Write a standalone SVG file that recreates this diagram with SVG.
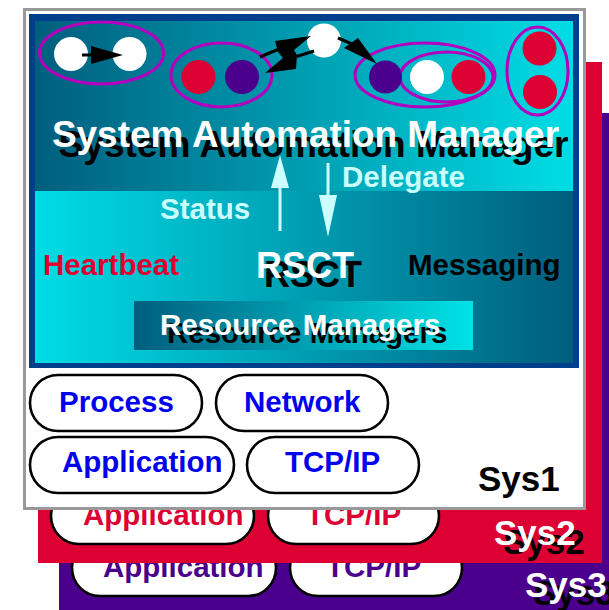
<svg xmlns="http://www.w3.org/2000/svg" width="609" height="610" viewBox="0 0 609 610">
<style>
text{font-family:"Liberation Sans",Arial,Helvetica,sans-serif;font-weight:bold}
.pill{fill:#fff;stroke:#000;stroke-width:2.6}
.ell{fill:none;stroke:#b400be;stroke-width:3}
.t29{font-size:29.5px}
.lc{fill:#ccffff}
.wh{fill:#fff}
.bk{fill:#000}
.blue{fill:#0000ee}
.red{fill:#dd0033}
.pur{fill:#4a008c}
</style>
<defs>
<linearGradient id="gTop" x1="0" y1="0" x2="1" y2="0"><stop offset="0" stop-color="#005e7e"/><stop offset="1" stop-color="#00dde5"/></linearGradient>
<linearGradient id="gBot" x1="0" y1="0" x2="1" y2="0"><stop offset="0" stop-color="#00dde6"/><stop offset="1" stop-color="#005e7e"/></linearGradient>
<linearGradient id="gRM" x1="0" y1="0" x2="1" y2="0"><stop offset="0" stop-color="#005e7e"/><stop offset="1" stop-color="#00e2e6"/></linearGradient>
</defs>

<g id="sys3">
<rect x="59" y="113" width="560" height="510" fill="#4a008c"/>
<rect class="pill" x="72" y="540" width="204" height="56" rx="28"/>
<rect class="pill" x="290" y="540" width="172" height="56" rx="28"/>
<text class="t29 pur" x="103" y="577">Application</text>
<text class="t29 pur" x="326" y="577">TCP/IP</text>
<text class="bk" x="533" y="605" font-size="35">Sys3</text>
<text class="wh" x="525" y="597" font-size="35">Sys3</text>
</g>

<g id="sys2">
<rect x="38" y="62" width="564" height="501" fill="#dd0033"/>
<rect class="pill" x="51" y="488" width="203" height="56" rx="28"/>
<rect class="pill" x="268" y="488" width="171" height="56" rx="28"/>
<text class="t29 red" x="83" y="525">Application</text>
<text class="t29 red" x="306" y="525">TCP/IP</text>
<text class="bk" x="503" y="554" font-size="35">Sys2</text>
<text class="wh" x="494" y="545" font-size="35">Sys2</text>
</g>

<g id="sys1">
<rect x="24.5" y="9.5" width="560" height="499" fill="#fff" stroke="#999" stroke-width="3"/>
<rect x="29" y="14" width="550" height="354" fill="#003f8c"/>
<g id="sam">
<rect x="35" y="21" width="538" height="170" fill="url(#gTop)"/>
</g>
<g id="rsct">
<rect x="35" y="191" width="538" height="172" fill="url(#gBot)"/>
<text class="t29 red" x="43" y="275">Heartbeat</text>
<text class="t29 bk" x="408" y="275">Messaging</text>
<text class="bk" x="264" y="287" font-size="36">RSCT</text>
<text class="wh" x="256" y="278" font-size="36">RSCT</text>
</g>
<g id="resource-managers">
<rect x="134" y="301" width="339" height="49" fill="url(#gRM)"/>
<text class="bk" x="167" y="343" font-size="29.5">Resource Managers</text>
<text class="wh" x="160" y="335" font-size="29.5">Resource Managers</text>
</g>
<g id="sam-title">
<text class="bk" x="58.5" y="157" font-size="37" textLength="510" lengthAdjust="spacingAndGlyphs">System Automation Manager</text>
<text class="wh" x="52" y="147" font-size="37" textLength="507" lengthAdjust="spacingAndGlyphs">System Automation Manager</text>
</g>
<g id="groups">
<ellipse class="ell" cx="101.5" cy="53" rx="62" ry="31"/>
<circle cx="71" cy="54" r="17" fill="#fff"/>
<circle cx="129.5" cy="54" r="17" fill="#fff"/>
<ellipse class="ell" cx="221.5" cy="75" rx="50.5" ry="32"/>
<circle cx="198.5" cy="77" r="17" fill="#dd0033"/>
<circle cx="242" cy="77" r="17" fill="#4a008c"/>
<circle cx="324" cy="40.5" r="17" fill="#fff"/>
<ellipse class="ell" cx="425" cy="75" rx="70" ry="32"/>
<ellipse class="ell" cx="446.5" cy="77" rx="46.5" ry="25"/>
<circle cx="385.5" cy="77" r="16.5" fill="#4a008c"/>
<circle cx="427" cy="77" r="17" fill="#fff"/>
<circle cx="468.5" cy="77" r="17" fill="#dd0033"/>
<ellipse class="ell" cx="537.5" cy="71" rx="30.5" ry="44"/>
<circle cx="539.5" cy="48.5" r="17" fill="#dd0033"/>
<circle cx="540" cy="92" r="17" fill="#dd0033"/>
</g>
<g id="pills">
<g id="process"><rect class="pill" x="30" y="375" width="172" height="56" rx="28"/><text class="t29 blue" x="59" y="412">Process</text></g>
<g id="network"><rect class="pill" x="216" y="375" width="172" height="56" rx="28"/><text class="t29 blue" x="244" y="412">Network</text></g>
<g id="application"><rect class="pill" x="30" y="437" width="204" height="56" rx="28"/><text class="t29 blue" x="62" y="472">Application</text></g>
<g id="tcpip"><rect class="pill" x="247" y="437" width="172" height="56" rx="28"/><text class="t29 blue" x="285" y="472">TCP/IP</text></g>
</g>
<text class="bk" x="478" y="491" font-size="35">Sys1</text>
</g>

<g id="connectors">
<line x1="82" y1="55" x2="93" y2="55" stroke="#000" stroke-width="3"/>
<polygon points="91,46 123,55 91,64" fill="#000"/>
<line x1="260" y1="57" x2="279" y2="49" stroke="#000" stroke-width="3"/>
<line x1="295" y1="57" x2="314" y2="51" stroke="#000" stroke-width="3"/>
<polygon points="275,41 311,36 294,50 297,55 296,69 265,73 283,58 278,52" fill="#000"/>
<line x1="338" y1="38" x2="352" y2="44" stroke="#000" stroke-width="3"/>
<polygon points="344,48 358,38 377,64" fill="#000"/>
<line x1="280" y1="231" x2="280" y2="185" stroke="#ccffff" stroke-width="3"/>
<polygon points="280,155 289,188 271,188" fill="#ccffff"/>
<line x1="328" y1="163" x2="328" y2="200" stroke="#ccffff" stroke-width="3"/>
<polygon points="319,195 337,195 328,237" fill="#ccffff"/>
<text class="t29 lc" x="160" y="219">Status</text>
<text class="t29 lc" x="342" y="187">Delegate</text>
</g>
</svg>
